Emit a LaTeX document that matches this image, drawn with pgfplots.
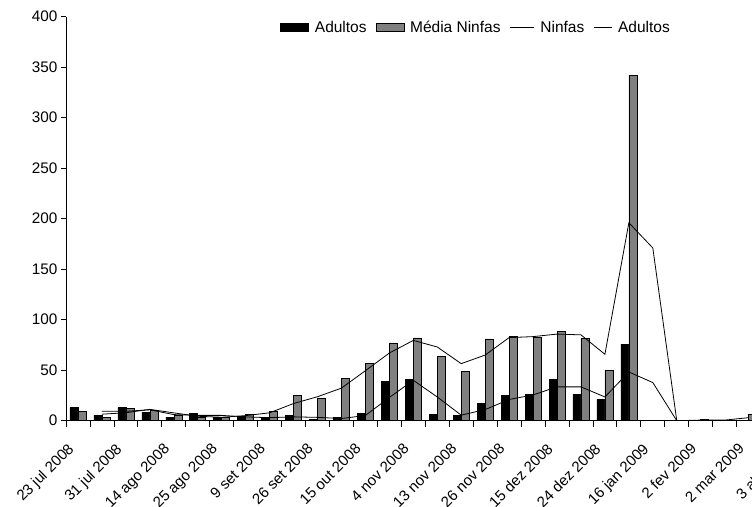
\documentclass[border=0pt]{standalone}
\usepackage{fontspec}
\setmainfont{Liberation Sans}
\usepackage{pgfplots}
\pgfplotsset{compat=1.18}
\definecolor{barGray}{HTML}{808080}
\begin{document}
\begin{tikzpicture}
\begin{axis}[
  scale only axis, width=742.5pt, height=404pt,
  xmin=-0.5, xmax=30.5, ymin=0, ymax=400,
  axis lines=left, axis line style={-, line width=0.8pt},
  tick align=outside,
  tick style={line width=0.8pt, black},
  major tick length=5pt, minor tick length=6pt,
  ytick={0,50,...,400},
  xtick={0,2,...,30},
  xticklabels={23 jul 2008, 31 jul 2008, 14 ago 2008, 25 ago 2008, 9 set 2008, 26 set 2008, 15 out 2008, 4 nov 2008, 13 nov 2008, 26 nov 2008, 15 dez 2008, 24 dez 2008, 16 jan 2009, 2 fev 2009, 2 mar 2009, 3 abr 2009},
  major x tick style={draw=none},
  minor xtick={-0.5,0.5,...,30.5},
  /pgf/number format/assume math mode=true,
  every tick label/.append style={font=\fontsize{15.3}{18}\selectfont},
  xticklabel style={font=\fontsize{15}{18}\selectfont, xshift=-11pt, yshift=-15pt, rotate=45, anchor=north east, inner sep=1pt},
  legend columns=4,
  legend style={at={(0.2885,0.973)}, anchor=west, draw=none, fill=none, inner sep=0pt,
    font=\fontsize{15.5}{18}\selectfont,
    /tikz/every odd column/.append style={column sep=4pt},
    /tikz/every even column/.append style={column sep=7pt}},
]
\coordinate (O) at (axis cs:-0.5,0);
\addplot[ybar, bar width=8pt, bar shift=-4pt, fill=black, draw=black, line width=0.5pt,
  legend image code/.code={\draw[fill=black,draw=black] (0pt,-4pt) rectangle (28pt,4pt);}]
coordinates {(0,13) (1,5.6) (2,13) (3,8.6) (4,3.5) (5,7) (6,3.5) (7,4) (8,2) (9,5.6) (10,1) (11,3.3) (12,7) (13,39) (14,41) (15,6) (16,5) (17,17) (18,25) (19,26) (20,41) (21,26) (22,21) (23,75.5) (24,0) (25,0) (26,0) (27,0) (28,0)};
\addlegendentry{Adultos}
\addplot[ybar, bar width=8pt, bar shift=4pt, fill=barGray, draw=black, line width=0.5pt,
  legend image code/.code={\draw[fill=barGray,draw=black,line width=0.5pt] (0pt,-4pt) rectangle (28pt,4pt);}]
coordinates {(0,9.6) (1,3.3) (2,12.5) (3,10) (4,5.5) (5,3.3) (6,3.5) (7,6.6) (8,9) (9,25) (10,22.5) (11,42) (12,57) (13,77) (14,82) (15,64) (16,49) (17,81) (18,83.5) (19,83) (20,88.5) (21,81.5) (22,50) (23,342) (24,0) (25,0) (26,1.2) (27,0) (28,6)};
\addlegendentry{Média Ninfas}
\addplot[black, line width=0.8pt, mark=none,
  legend image code/.code={\path (0pt,0pt) -- (6pt,0pt); \draw[black,line width=0.8pt] (6pt,0pt) -- (24pt,0pt);}]
coordinates {(1,6.45) (2,7.9) (3,11.25) (4,7.75) (5,4.4) (6,3.4) (7,5.05) (8,7.8) (9,17) (10,23.75) (11,32.25) (12,49.5) (13,67) (14,79.5) (15,73) (16,56.5) (17,65) (18,82.25) (19,83.25) (20,85.75) (21,85) (22,65.75) (23,196) (24,171) (25,0) (26,0.6) (27,0.6) (28,3)};
\addlegendentry{Ninfas}
\addplot[black, line width=0.8pt, mark=none,
  legend image code/.code={\draw[black,line width=0.8pt] (0pt,0pt) -- (18pt,0pt);}]
coordinates {(1,9.3) (2,9.3) (3,10.8) (4,6.05) (5,5.25) (6,5.25) (7,3.75) (8,3) (9,3.8) (10,3.3) (11,2.15) (12,5.15) (13,23) (14,40) (15,23.5) (16,5.5) (17,11) (18,21) (19,25.5) (20,33.5) (21,33.5) (22,23.5) (23,48.25) (24,37.75) (25,0) (26,0) (27,0) (28,0)};
\addlegendentry{Adultos}
\end{axis}
\pgfresetboundingbox
\path[use as bounding box] ([shift={(-66pt,-85.3pt)}]O) rectangle ([shift={(686pt,420.7pt)}]O);
\end{tikzpicture}
\end{document}
